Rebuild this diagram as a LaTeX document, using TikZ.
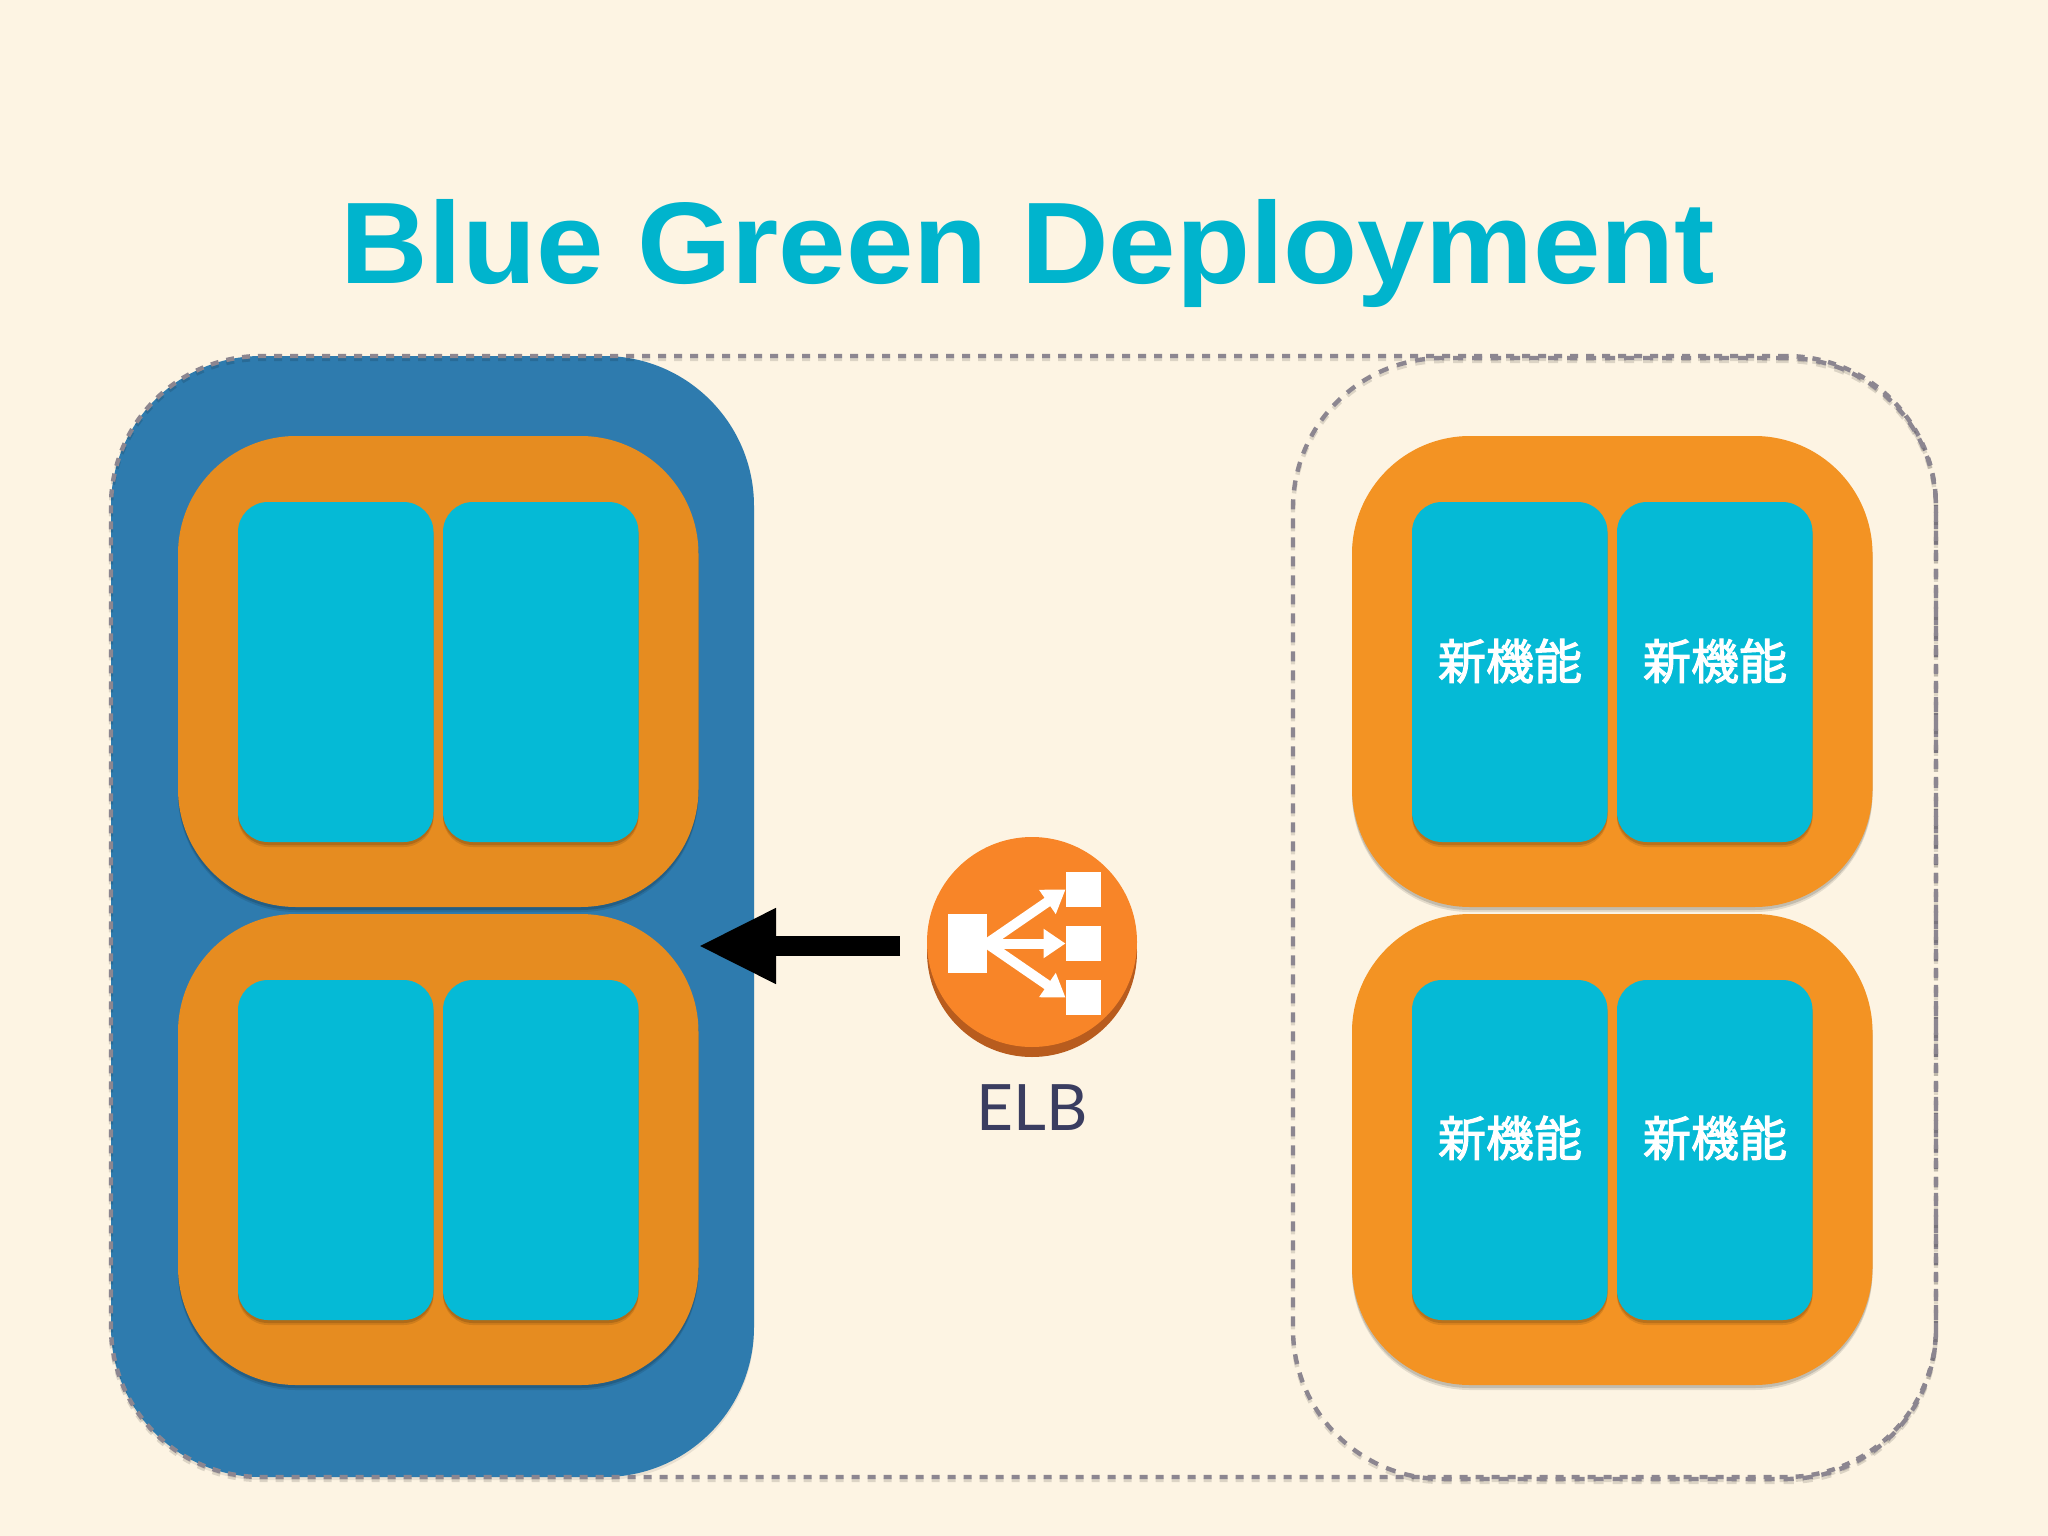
\documentclass[tikz,border=0pt]{standalone}
\usepackage{fontspec}
\setmainfont{Liberation Sans}
\newfontfamily\titlefont[FakeStretch=1.045]{Liberation Sans}
\newfontfamily\cjk[FakeBold=2.2]{Noto Sans CJK JP}
\newfontfamily\elbfont{Lato}
\usetikzlibrary{arrows.meta}
\definecolor{bgcream}{HTML}{FDF4E3}
\definecolor{titleteal}{HTML}{00B4CD}
\definecolor{deepblue}{HTML}{2E7BAE}
\definecolor{orangeL}{HTML}{E68C20}
\definecolor{orangeR}{HTML}{F39323}
\definecolor{tealbox}{HTML}{05BAD6}
\definecolor{dashgrey}{HTML}{8C8690}
\definecolor{elbfill}{HTML}{F88528}
\definecolor{elbdark}{HTML}{B85C1E}
\definecolor{elbtext}{HTML}{3A3D60}
\tikzset{
  x=1pt,y=-1pt,
  softshadow/.style={preaction={fill=black,opacity=.10,transform canvas={yshift=-5pt}},
                     preaction={fill=black,opacity=.14,transform canvas={yshift=-3pt}}},
  rbox/.style={rectangle,inner sep=0pt,outer sep=0pt,anchor=north west},
  bluebox/.style={rbox,fill=deepblue,rounded corners=150pt,minimum width=643pt,minimum height=1121pt,
     preaction={fill=black,opacity=.08,transform canvas={yshift=-3pt}}},
  dashbox/.style={rbox,draw=dashgrey,line width=4.4pt,rounded corners=150pt,minimum height=1121pt,
     preaction={draw=black,opacity=.13,transform canvas={yshift=-3pt}}},
  orangebox/.style={rbox,softshadow,rounded corners=118pt,minimum width=520.5pt,minimum height=471pt},
  tealcard/.style={rbox,softshadow,fill=tealbox,rounded corners=30pt,minimum width=195.5pt,minimum height=340pt},
  cardtext/.style={text=white,font=\cjk\fontsize{48}{50}\selectfont},
  elbdisc/.style={circle,inner sep=0pt,outer sep=0pt,minimum size=210pt,fill=elbfill,
     preaction={fill=elbdark,transform canvas={yshift=-10pt}}},
  iconsq/.style={rectangle,inner sep=0pt,outer sep=0pt,fill=white,minimum width=35pt,minimum height=35pt},
  iconarrow/.style={draw=white,line width=10pt,-{Triangle[length=22pt,width=28pt]}},
  flowarrow/.style={draw=black,line width=20pt,-{Triangle[length=78pt,width=70pt]}},
}
\begin{document}
\begin{tikzpicture}
\useasboundingbox[fill=bgcream] (0,0) rectangle (2048,1536);

% title
\node[anchor=base,inner sep=0pt,text=titleteal,font=\titlefont\bfseries\fontsize{116}{120}\selectfont] (title) at (1028,283) {Blue Green Deployment};

% blue environment
\node[bluebox] (blue) at (111,356) {};
\node[dashbox,minimum width=1825pt,dash pattern=on 8pt off 8pt] (outer) at (111,356) {};
\node[dashbox,minimum width=643pt,dash pattern=on 10pt off 9pt] (green) at (1293,358) {};

% left group
\node[orangebox,fill=orangeL] (lt) at (178,436) {};
\node[orangebox,fill=orangeL] (lb) at (178,914) {};
\node[tealcard] (lt1) at (238,502) {};
\node[tealcard] (lt2) at (443,502) {};
\node[tealcard] (lb1) at (238,980) {};
\node[tealcard] (lb2) at (443,980) {};

% right group
\node[orangebox,fill=orangeR] (rt) at (1352,436) {};
\node[orangebox,fill=orangeR] (rb) at (1352,914) {};
\node[tealcard] (rt1) at (1412,502) {};
\node[tealcard] (rt2) at (1617,502) {};
\node[tealcard] (rb1) at (1412,980) {};
\node[tealcard] (rb2) at (1617,980) {};
\node[cardtext] (t1) at (1510,661) {新機能};
\node[cardtext] (t2) at (1715,661) {新機能};
\node[cardtext] (t3) at (1510,1138) {新機能};
\node[cardtext] (t4) at (1715,1138) {新機能};

% ELB
\node[elbdisc] (elb) at (1032,942) {};
\node[rectangle,inner sep=0pt,outer sep=0pt,fill=white,minimum width=39pt,minimum height=59pt] (iconsrc) at (967.5,943.5) {};
\node[iconsq] (sqa) at (1083,889.5) {};
\node[iconsq] (sqb) at (1083,943.5) {};
\node[iconsq] (sqc) at (1083,997.5) {};
\draw[iconarrow] (iconsrc.east) -- (sqa.west);
\draw[iconarrow] (iconsrc.east) -- (sqb.west);
\draw[iconarrow] (iconsrc.east) -- (sqc.west);
\node[anchor=base,inner sep=0pt,text=elbtext,font=\elbfont\fontsize{64}{66}\selectfont] (elblabel) at (1032,1130) {ELB};

% arrow to the active environment
\draw[flowarrow,shorten <=27pt,shorten >=-56pt] ([yshift=-4pt]elb.west) -- ([yshift=-29.5pt]blue.east);
\end{tikzpicture}
\end{document}
